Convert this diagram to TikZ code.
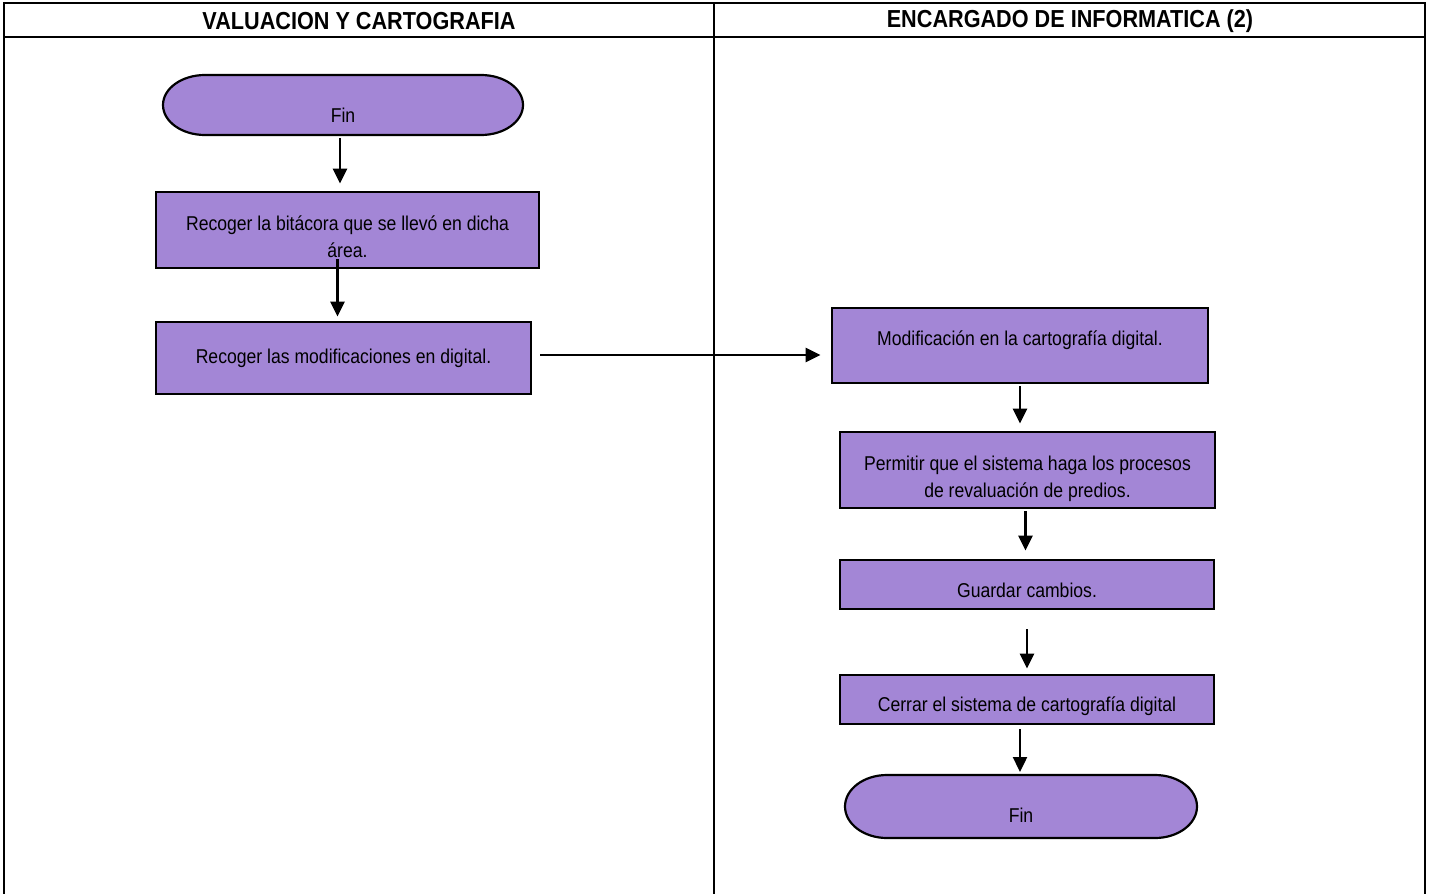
\documentclass[tikz,border=0pt]{standalone}
\usepackage{fontspec}
\setmainfont{Liberation Sans}[FakeStretch=0.88]
\usetikzlibrary{arrows.meta,backgrounds}
\definecolor{proceso}{RGB}{163,134,214}
% baja el texto dentro de la caja sin cambiar su tamano
\newcommand{\bajar}[2]{\raisebox{-#1}[\height][\depth]{#2}}

\begin{document}
\begin{tikzpicture}[x=0.5pt,y=-0.5pt,
    caja/.style={draw,line width=1.4pt,fill=proceso,align=center,
        font=\fontsize{10}{13.5}\selectfont,inner sep=0pt},
    fin/.style={caja,draw=none,fill=none,outer sep=0pt,minimum height=30pt},
    terminal/.style={line width=1.1pt,fill=proceso},
    flecha/.style={line width=1.2pt,-{Triangle[length=7.5pt,width=7pt]}},
    borde/.style={line width=1.2pt},
    cabecera/.style={font=\fontsize{12.3}{14}\selectfont\bfseries}]
\useasboundingbox (0,0) rectangle (1430,894);

% tabla
\draw[borde] (4,894) -- (4,3) -- (1425,3) -- (1425,894);
\draw[borde] (4,37) -- (1425,37);
\draw[borde] (714,3) -- (714,894);
\node[cabecera] (cab1) at (359,21) {VALUACION Y CARTOGRAFIA};
\node[cabecera] (cab2) at (1070,21) {ENCARGADO DE INFORMATICA (2)};

% valuacion y cartografia
\node[fin,minimum width=180pt] (fin1) at (343,105) {\bajar{5pt}{Fin}};
\node[caja,minimum width=191.5pt,minimum height=38pt] (rec1) at (347.5,230)
    {\bajar{3.5pt}{Recoger la bitácora que se llevó en dicha}\\\bajar{3.5pt}{área.}};
\node[caja,minimum width=187.5pt,minimum height=36pt] (rec2) at (343.5,358)
    {Recoger las modificaciones en digital.};

% encargado de informatica
\node[caja,minimum width=188pt,minimum height=37.5pt] (mod) at (1020,345.5)
    {\bajar{-2.5pt}{Modificación en la cartografía digital.}};
\node[caja,minimum width=187.5pt,minimum height=38pt] (perm) at (1027.5,470)
    {\bajar{4.5pt}{Permitir que el sistema haga los procesos}\\\bajar{4.5pt}{de revaluación de predios.}};
\node[caja,minimum width=187pt,minimum height=24.5pt] (guar) at (1027,584.5)
    {\bajar{3pt}{Guardar cambios.}};
\node[caja,minimum width=187pt,minimum height=24.5pt] (cerr) at (1027,699.5)
    {\bajar{3.5pt}{Cerrar el sistema de cartografía digital}};
\node[fin,minimum width=176pt,minimum height=31.5pt] (fin2) at (1021,806.5) {\bajar{4.5pt}{Fin}};

% terminales (detras del texto)
\begin{scope}[on background layer]
\filldraw[terminal] ([xshift=21pt]fin1.north west) -- ([xshift=-21pt]fin1.north east)
    arc[start angle=90,end angle=-90,x radius=21pt,y radius=15pt]
    -- ([xshift=21pt]fin1.south west)
    arc[start angle=270,end angle=90,x radius=21pt,y radius=15pt] -- cycle;
\filldraw[terminal] ([xshift=21pt]fin2.north west) -- ([xshift=-21pt]fin2.north east)
    arc[start angle=90,end angle=-90,x radius=21pt,y radius=15.75pt]
    -- ([xshift=21pt]fin2.south west)
    arc[start angle=270,end angle=90,x radius=21pt,y radius=15.75pt] -- cycle;
\end{scope}

% flechas
\draw[flecha,shorten <=1.5pt,shorten >=3.5pt] ([xshift=-1.5pt]fin1.south) -- ([xshift=-1.5pt]fin1.south |- rec1.north);
\draw[flecha,shorten <=-5pt,shorten >=2pt] ([xshift=-5pt]rec1.south) -- ([xshift=-5pt]rec1.south |- rec2.north);
\draw[flecha,shorten <=4pt,shorten >=5pt] ([yshift=1.5pt]rec2.east) -- ([yshift=1.5pt]rec2.east -| mod.west);
\draw[flecha,shorten <=1pt,shorten >=3.5pt] (mod.south) -- (mod.south |- perm.north);
\draw[flecha,shorten <=1pt,shorten >=4pt] ([xshift=-1pt]perm.south) -- ([xshift=-1pt]perm.south |- guar.north);
\draw[flecha,shorten <=9.5pt,shorten >=2.5pt] (guar.south) -- (guar.south |- cerr.north);
\draw[flecha,shorten <=2pt,shorten >=1.5pt] ([xshift=-3.5pt]cerr.south) -- ([xshift=-3.5pt]cerr.south |- fin2.north);
\end{tikzpicture}
\end{document}
